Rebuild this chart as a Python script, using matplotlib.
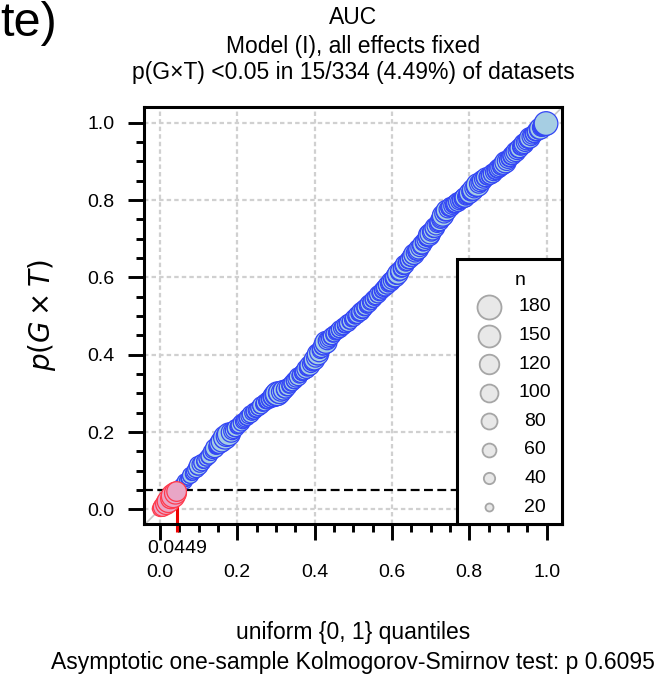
import numpy as np
import matplotlib
matplotlib.use("Agg")
import matplotlib.pyplot as plt
from matplotlib.ticker import MultipleLocator
from matplotlib.patches import Rectangle
import matplotlib.transforms as mtransforms

plt.rcParams['font.family'] = ['Liberation Sans', 'DejaVu Sans']

# ---- data: sorted p-values of G x T per dataset ----
p_values = [
    0.002, 0.004, 0.006, 0.009, 0.011, 0.014, 0.017, 0.021, 0.024, 0.028, 0.031, 0.035, 0.039, 0.042, 0.046,
    0.052, 0.056, 0.059, 0.062, 0.066, 0.069, 0.072, 0.075, 0.078, 0.081, 0.085, 0.088, 0.091, 0.094, 0.098, 0.101, 0.104, 0.108,
    0.113, 0.116, 0.119, 0.121, 0.123, 0.126, 0.129, 0.132, 0.135, 0.138,
    0.145, 0.148, 0.151, 0.155, 0.158, 0.161, 0.164, 0.167, 0.170, 0.173,
    0.176, 0.180, 0.183, 0.186, 0.189, 0.192, 0.194, 0.197, 0.199, 0.202,
    0.204, 0.207, 0.210, 0.213, 0.215, 0.218, 0.221, 0.224, 0.227, 0.230,
    0.232, 0.235, 0.238, 0.241, 0.243, 0.246, 0.249, 0.251, 0.254, 0.256,
    0.258, 0.261, 0.263, 0.266, 0.269, 0.271, 0.274, 0.276, 0.279, 0.281,
    0.282, 0.284, 0.286, 0.289, 0.291, 0.293, 0.295, 0.297, 0.299, 0.301,
    0.302, 0.304, 0.306, 0.308, 0.309, 0.311, 0.313, 0.316, 0.319, 0.322,
    0.325, 0.328, 0.331, 0.334, 0.337, 0.340, 0.343, 0.346, 0.349, 0.352,
    0.354, 0.357, 0.360, 0.363, 0.366, 0.369, 0.372, 0.376, 0.379, 0.383,
    0.387, 0.391, 0.396, 0.401, 0.406, 0.411, 0.416, 0.421, 0.425, 0.429,
    0.432, 0.436, 0.439, 0.442, 0.445, 0.448, 0.451, 0.454, 0.456, 0.459,
    0.461, 0.463, 0.466, 0.468, 0.470, 0.473, 0.475, 0.478, 0.480, 0.482,
    0.485, 0.487, 0.490, 0.493, 0.495, 0.498, 0.501, 0.503, 0.506, 0.508,
    0.511, 0.514, 0.517, 0.520, 0.523, 0.526, 0.529, 0.532, 0.535, 0.538,
    0.541, 0.544, 0.547, 0.550, 0.553, 0.556, 0.559, 0.562, 0.565, 0.568,
    0.571, 0.574, 0.577, 0.580, 0.583, 0.586, 0.589, 0.592, 0.595, 0.598,
    0.601, 0.605, 0.609, 0.613, 0.617, 0.621, 0.625, 0.629, 0.633, 0.637,
    0.640, 0.643, 0.646, 0.650, 0.653, 0.656, 0.660, 0.663, 0.666, 0.669,
    0.673, 0.677, 0.681, 0.685, 0.689, 0.693, 0.697, 0.701, 0.705, 0.709,
    0.713, 0.717, 0.721, 0.725, 0.729, 0.733, 0.737, 0.741, 0.745, 0.750,
    0.755, 0.760, 0.765, 0.769, 0.773, 0.776, 0.779, 0.781, 0.783, 0.785,
    0.787, 0.789, 0.791, 0.793, 0.795, 0.797, 0.799, 0.801, 0.803, 0.805,
    0.807, 0.809, 0.812, 0.815, 0.818, 0.821, 0.824, 0.827, 0.830, 0.833,
    0.836, 0.839, 0.842, 0.845, 0.848, 0.851, 0.854, 0.857, 0.859, 0.861,
    0.860, 0.862, 0.864, 0.867, 0.869, 0.872, 0.874, 0.877, 0.879, 0.882,
    0.884, 0.887, 0.889, 0.892, 0.895, 0.898, 0.901, 0.904, 0.907, 0.910,
    0.913, 0.916, 0.919, 0.922, 0.925, 0.928, 0.931, 0.934, 0.937, 0.940,
    0.943, 0.946, 0.949, 0.952, 0.955, 0.958, 0.961, 0.964, 0.967, 0.970,
    0.972, 0.975, 0.978, 0.980, 0.983, 0.985, 0.988, 0.990, 0.993, 0.995, 0.998,
]

# sample size n of each dataset (same order)
sample_n = [
    80, 50, 110, 60, 90, 140, 100, 160, 80, 130, 110, 175, 90, 150, 120,
    50, 40, 60, 45, 55, 40, 70, 50, 45, 60, 55, 80, 50, 65, 70, 60, 90, 70,
    110, 75, 60, 85, 55, 70, 50, 75, 60, 80,
    60, 85, 70, 75, 110, 65, 80, 100, 120, 75,
    140, 90, 110, 170, 130, 100, 160, 80, 120, 90,
    80, 65, 90, 60, 70, 80, 55, 85, 65, 70,
    65, 60, 80, 70, 55, 90, 65, 60, 80, 65,
    70, 60, 80, 65, 90, 55, 70, 85, 65, 80,
    90, 80, 100, 70, 120, 140, 110, 160, 175, 130,
    150, 110, 90, 120, 80, 100, 70, 90, 65, 80,
    70, 85, 65, 90, 80, 60, 100, 70, 80, 65,
    80, 90, 70, 110, 85, 100, 120, 90, 80, 110,
    130, 100, 90, 140, 110, 80, 100, 90, 120, 110,
    150, 100, 90, 80, 70, 90, 65, 80, 60, 70,
    80, 65, 90, 70, 60, 85, 65, 80, 70, 90,
    65, 80, 60, 70, 85, 65, 80, 90, 70, 80,
    100, 80, 90, 70, 85, 65, 80, 90, 70, 80,
    65, 85, 70, 80, 60, 90, 70, 80, 65, 85,
    80, 90, 70, 100, 80, 90, 110, 95, 80, 100,
    120, 100, 130, 90, 110, 80, 100, 90, 110, 80,
    90, 80, 100, 85, 110, 90, 130, 100, 90, 110,
    120, 100, 90, 110, 80, 100, 90, 80, 110, 140,
    130, 100, 110, 90, 120, 100, 80, 90, 110, 100,
    120, 140, 110, 100, 130, 90, 80, 100, 110, 90,
    80, 90, 100, 80, 110, 90, 80, 100, 90, 110,
    120, 90, 100, 110, 130, 100, 120, 140, 110, 100,
    130, 160, 110, 100, 90, 120, 100, 90, 110, 80,
    90, 80, 100, 85, 110, 90, 80, 100, 90, 110,
    100, 90, 110, 120, 100, 140, 110, 90, 80, 100,
    90, 110, 100, 80, 120, 100, 90, 110, 80, 100,
    110, 120, 100, 90, 80, 110, 130, 100, 90, 80,
    100, 90, 110, 80, 120, 140, 100, 110, 130, 150, 175,
]

legend_n = [180, 150, 120, 100, 80, 60, 40, 20]
alpha_level = 0.05
x_ticks = [0.0, 0.2, 0.4, 0.6, 0.8, 1.0]
title_lines = ["AUC", "Model (I), all effects fixed",
               "p(G\u00d7T) <0.05 in 15/334 (4.49%) of datasets"]
xlabel_lines = ["uniform {0, 1} quantiles",
                "Asymptotic one-sample Kolmogorov-Smirnov test: p 0.6095"]

# ---- computation ----
p = np.sort(np.asarray(p_values))
nn = np.asarray(sample_n)
N = len(p)
q = (np.arange(1, N + 1) - 0.5) / N
sig = p < alpha_level
n_sig = int(sig.sum())
frac_sig = n_sig / N

SIZE_K = 1.66  # pt^2 per unit n

fig = plt.figure(figsize=(6.72, 6.74), dpi=100)
W, H = 672, 674
ax_l, ax_r, ax_t, ax_b = 144, 561.7, 107.3, 524
ax = fig.add_axes([ax_l / W, 1 - ax_b / H, (ax_r - ax_l) / W, (ax_b - ax_t) / H])

ax.set_xlim(-0.041, 1.039)
ax.set_ylim(-0.038, 1.040)

# grid
for v in x_ticks:
    ax.axvline(v, color='#d0d0d0', lw=1.6, ls=(0, (2.0, 1.4)), zorder=0)
    ax.axhline(v, color='#d0d0d0', lw=1.6, ls=(0, (2.0, 1.4)), zorder=0)

# reference diagonal
ax.axline((0, 0), (1, 1), color='#c8c8c8', lw=1.2, zorder=1)

# alpha dashed line
ax.axhline(alpha_level, color='black', lw=1.6, ls=(0, (4, 2)), zorder=1)

# red marker line at fraction significant
ybot = ax.get_ylim()[0] - 8 / 386.5
ax.plot([frac_sig, frac_sig], [ybot, p[sig][-1]], color='#ee0000', lw=2.2,
        clip_on=False, zorder=2, solid_capstyle='butt')

# points
ax.scatter(q[~sig], p[~sig], s=SIZE_K * nn[~sig], facecolor='#a6cee3',
           edgecolor='#3346f5', linewidths=0.9, zorder=3)
ax.scatter(q[sig], p[sig], s=SIZE_K * nn[sig], facecolor='#e9a6c6',
           edgecolor='#ff3a4c', linewidths=0.9, zorder=3)

# ticks
ax.set_xticks(x_ticks)
ax.set_yticks(x_ticks)
ax.xaxis.set_minor_locator(MultipleLocator(0.05))
ax.yaxis.set_minor_locator(MultipleLocator(0.05))
ax.set_xticklabels([f"{v:.1f}" for v in x_ticks])
ax.set_yticklabels([f"{v:.1f}" for v in x_ticks])
ax.tick_params(which='major', length=11.5, width=2.1, labelsize=14)
ax.tick_params(which='minor', length=6, width=2.1)
ax.tick_params(axis='x', which='major', pad=17.5)
ax.tick_params(axis='y', which='major', pad=9.5)
for s in ax.spines.values():
    s.set_linewidth(2.2)

# extra label for fraction
trans = mtransforms.blended_transform_factory(ax.transData, ax.transAxes)
ax.text(frac_sig, -0.0576, f"{frac_sig:.4f}", transform=trans, ha='center',
        va='center', fontsize=14, clip_on=False)

# legend (manual)
leg_left = 0.7487
leg_top = 0.6352
ax.add_patch(Rectangle((leg_left, 0), 1 - leg_left, leg_top, transform=ax.transAxes,
                       facecolor='white', edgecolor='black', lw=2.2, zorder=10,
                       clip_on=False))
ax.text(0.900, 0.5855, "n", transform=ax.transAxes, ha='center', va='center',
        fontsize=14, zorder=11)
row0, drow = 0.5208, 0.0686
for k, v in enumerate(legend_n):
    yy = row0 - k * drow
    ax.scatter([0.826], [yy], s=SIZE_K * v, transform=ax.transAxes,
               facecolor='#e8e8e8', edgecolor='#a6a6a6', linewidths=1.3,
               zorder=11, clip_on=False)
    ax.text(0.936, yy, str(v), transform=ax.transAxes, ha='center', va='center',
            fontsize=14, zorder=11)

# y label
fig.text(42 / W, 1 - 315 / H, r"$p(G\times T)$", rotation=90, ha='center',
         va='center', fontsize=20)

# titles
for txt, yp in zip(title_lines, [18, 46, 73]):
    fig.text(353 / W, 1 - yp / H, txt, ha='center', va='center', fontsize=16.5)

for txt, yp in zip(xlabel_lines, [633, 662]):
    fig.text(353 / W, 1 - yp / H, txt, ha='center', va='center', fontsize=16.5)

# clipped fragment of an outer title
fig.text(0.0, 1 - 36 / H, "te)", ha='left', va='baseline', fontsize=35)

fig.savefig("out.png", dpi=100)
